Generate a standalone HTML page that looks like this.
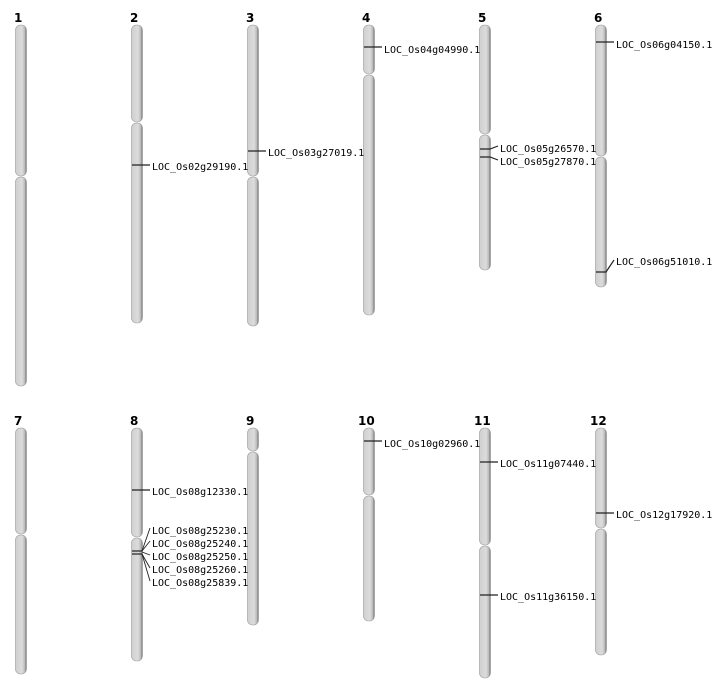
<!DOCTYPE html>
<html><head><meta charset="utf-8"><style>
html,body{margin:0;padding:0;background:#fff;}
svg{display:block}
text{font-family:"DejaVu Sans Mono","Liberation Mono",monospace;font-size:10px;fill:#000}
.n{font-family:"DejaVu Sans","Liberation Sans",sans-serif;font-weight:bold;font-size:12px}
.c{fill:url(#g);stroke:#999;stroke-width:0.6}
.m{stroke:#222;stroke-width:1.2;fill:none}
.t{stroke:#222;stroke-width:0.9;fill:none}
</style></head><body>
<svg width="712" height="700" viewBox="0 0 712 700" xmlns="http://www.w3.org/2000/svg">
<defs><linearGradient id="g" x1="0" x2="1" y1="0" y2="0">
<stop offset="0" stop-color="#cfcfcf"/><stop offset="0.6" stop-color="#dcdcdc"/><stop offset="0.85" stop-color="#b8b8b8"/><stop offset="1" stop-color="#6a6a6a"/></linearGradient></defs>
<g>
<text class="n" x="14" y="22">1</text><text class="n" x="130" y="22">2</text><text class="n" x="246" y="22">3</text><text class="n" x="362" y="22">4</text><text class="n" x="478" y="22">5</text><text class="n" x="594" y="22">6</text>
<text class="n" x="14" y="425">7</text><text class="n" x="130" y="425">8</text><text class="n" x="246" y="425">9</text><text class="n" x="358" y="425">10</text><text class="n" x="474" y="425">11</text><text class="n" x="590" y="425">12</text>
</g>
<g>
<rect class="c" x="15.5" y="25" width="11" height="151" rx="5"/><rect class="c" x="15.5" y="177" width="11" height="209" rx="5"/>
<rect class="c" x="131.5" y="25" width="11" height="97" rx="5"/><rect class="c" x="131.5" y="123" width="11" height="200" rx="5"/>
<rect class="c" x="247.5" y="25" width="11" height="151" rx="5"/><rect class="c" x="247.5" y="177" width="11" height="149" rx="5"/>
<rect class="c" x="363.5" y="25" width="11" height="49" rx="5"/><rect class="c" x="363.5" y="75" width="11" height="240" rx="5"/>
<rect class="c" x="479.5" y="25" width="11" height="109" rx="5"/><rect class="c" x="479.5" y="135" width="11" height="135" rx="5"/>
<rect class="c" x="595.5" y="25" width="11" height="131" rx="5"/><rect class="c" x="595.5" y="157" width="11" height="130" rx="5"/>

<rect class="c" x="15.5" y="428" width="11" height="106" rx="5"/><rect class="c" x="15.5" y="535" width="11" height="139" rx="5"/>
<rect class="c" x="131.5" y="428" width="11" height="109" rx="5"/><rect class="c" x="131.5" y="538" width="11" height="123" rx="5"/>
<rect class="c" x="247.5" y="428" width="11" height="23" rx="5"/><rect class="c" x="247.5" y="452" width="11" height="173" rx="5"/>
<rect class="c" x="363.5" y="428" width="11" height="67" rx="5"/><rect class="c" x="363.5" y="496" width="11" height="125" rx="5"/>
<rect class="c" x="479.5" y="428" width="11" height="117" rx="5"/><rect class="c" x="479.5" y="546" width="11" height="132" rx="5"/>
<rect class="c" x="595.5" y="428" width="11" height="100" rx="5"/><rect class="c" x="595.5" y="529" width="11" height="126" rx="5"/>
</g>
<g>
<path class="m" d="M132 165H150"/><text x="152" y="170">LOC_Os02g29190.1</text>
<path class="m" d="M248 151H266"/><text x="268" y="156">LOC_Os03g27019.1</text>
<path class="m" d="M364 47H382"/><text x="384" y="53">LOC_Os04g04990.1</text>
<path class="m" d="M480 149H490L498 146"/><text x="500" y="152">LOC_Os05g26570.1</text>
<path class="m" d="M480 157H490L498 160"/><text x="500" y="165">LOC_Os05g27870.1</text>
<path class="m" d="M596 42H614"/><text x="616" y="48">LOC_Os06g04150.1</text>
<path class="m" d="M596 272H606L614 260"/><text x="616" y="265">LOC_Os06g51010.1</text>

<path class="m" d="M132 490H150"/><text x="152" y="495">LOC_Os08g12330.1</text>
<path class="m" d="M132 551H142"/><path class="m" d="M132 554H142"/>
<path class="t" d="M142 551L150 528"/><text x="152" y="534">LOC_Os08g25230.1</text>
<path class="t" d="M142 551L150 541"/><text x="152" y="547">LOC_Os08g25240.1</text>
<path class="t" d="M142 552L150 555"/><text x="152" y="560">LOC_Os08g25250.1</text>
<path class="t" d="M142 554L150 568"/><text x="152" y="573">LOC_Os08g25260.1</text>
<path class="t" d="M142 554L150 581"/><text x="152" y="586">LOC_Os08g25839.1</text>
<path class="m" d="M364 441H382"/><text x="384" y="447">LOC_Os10g02960.1</text>
<path class="m" d="M480 462H498"/><text x="500" y="467">LOC_Os11g07440.1</text>
<path class="m" d="M480 595H498"/><text x="500" y="600">LOC_Os11g36150.1</text>
<path class="m" d="M596 513H614"/><text x="616" y="518">LOC_Os12g17920.1</text>
</g>
</svg>
</body></html>
